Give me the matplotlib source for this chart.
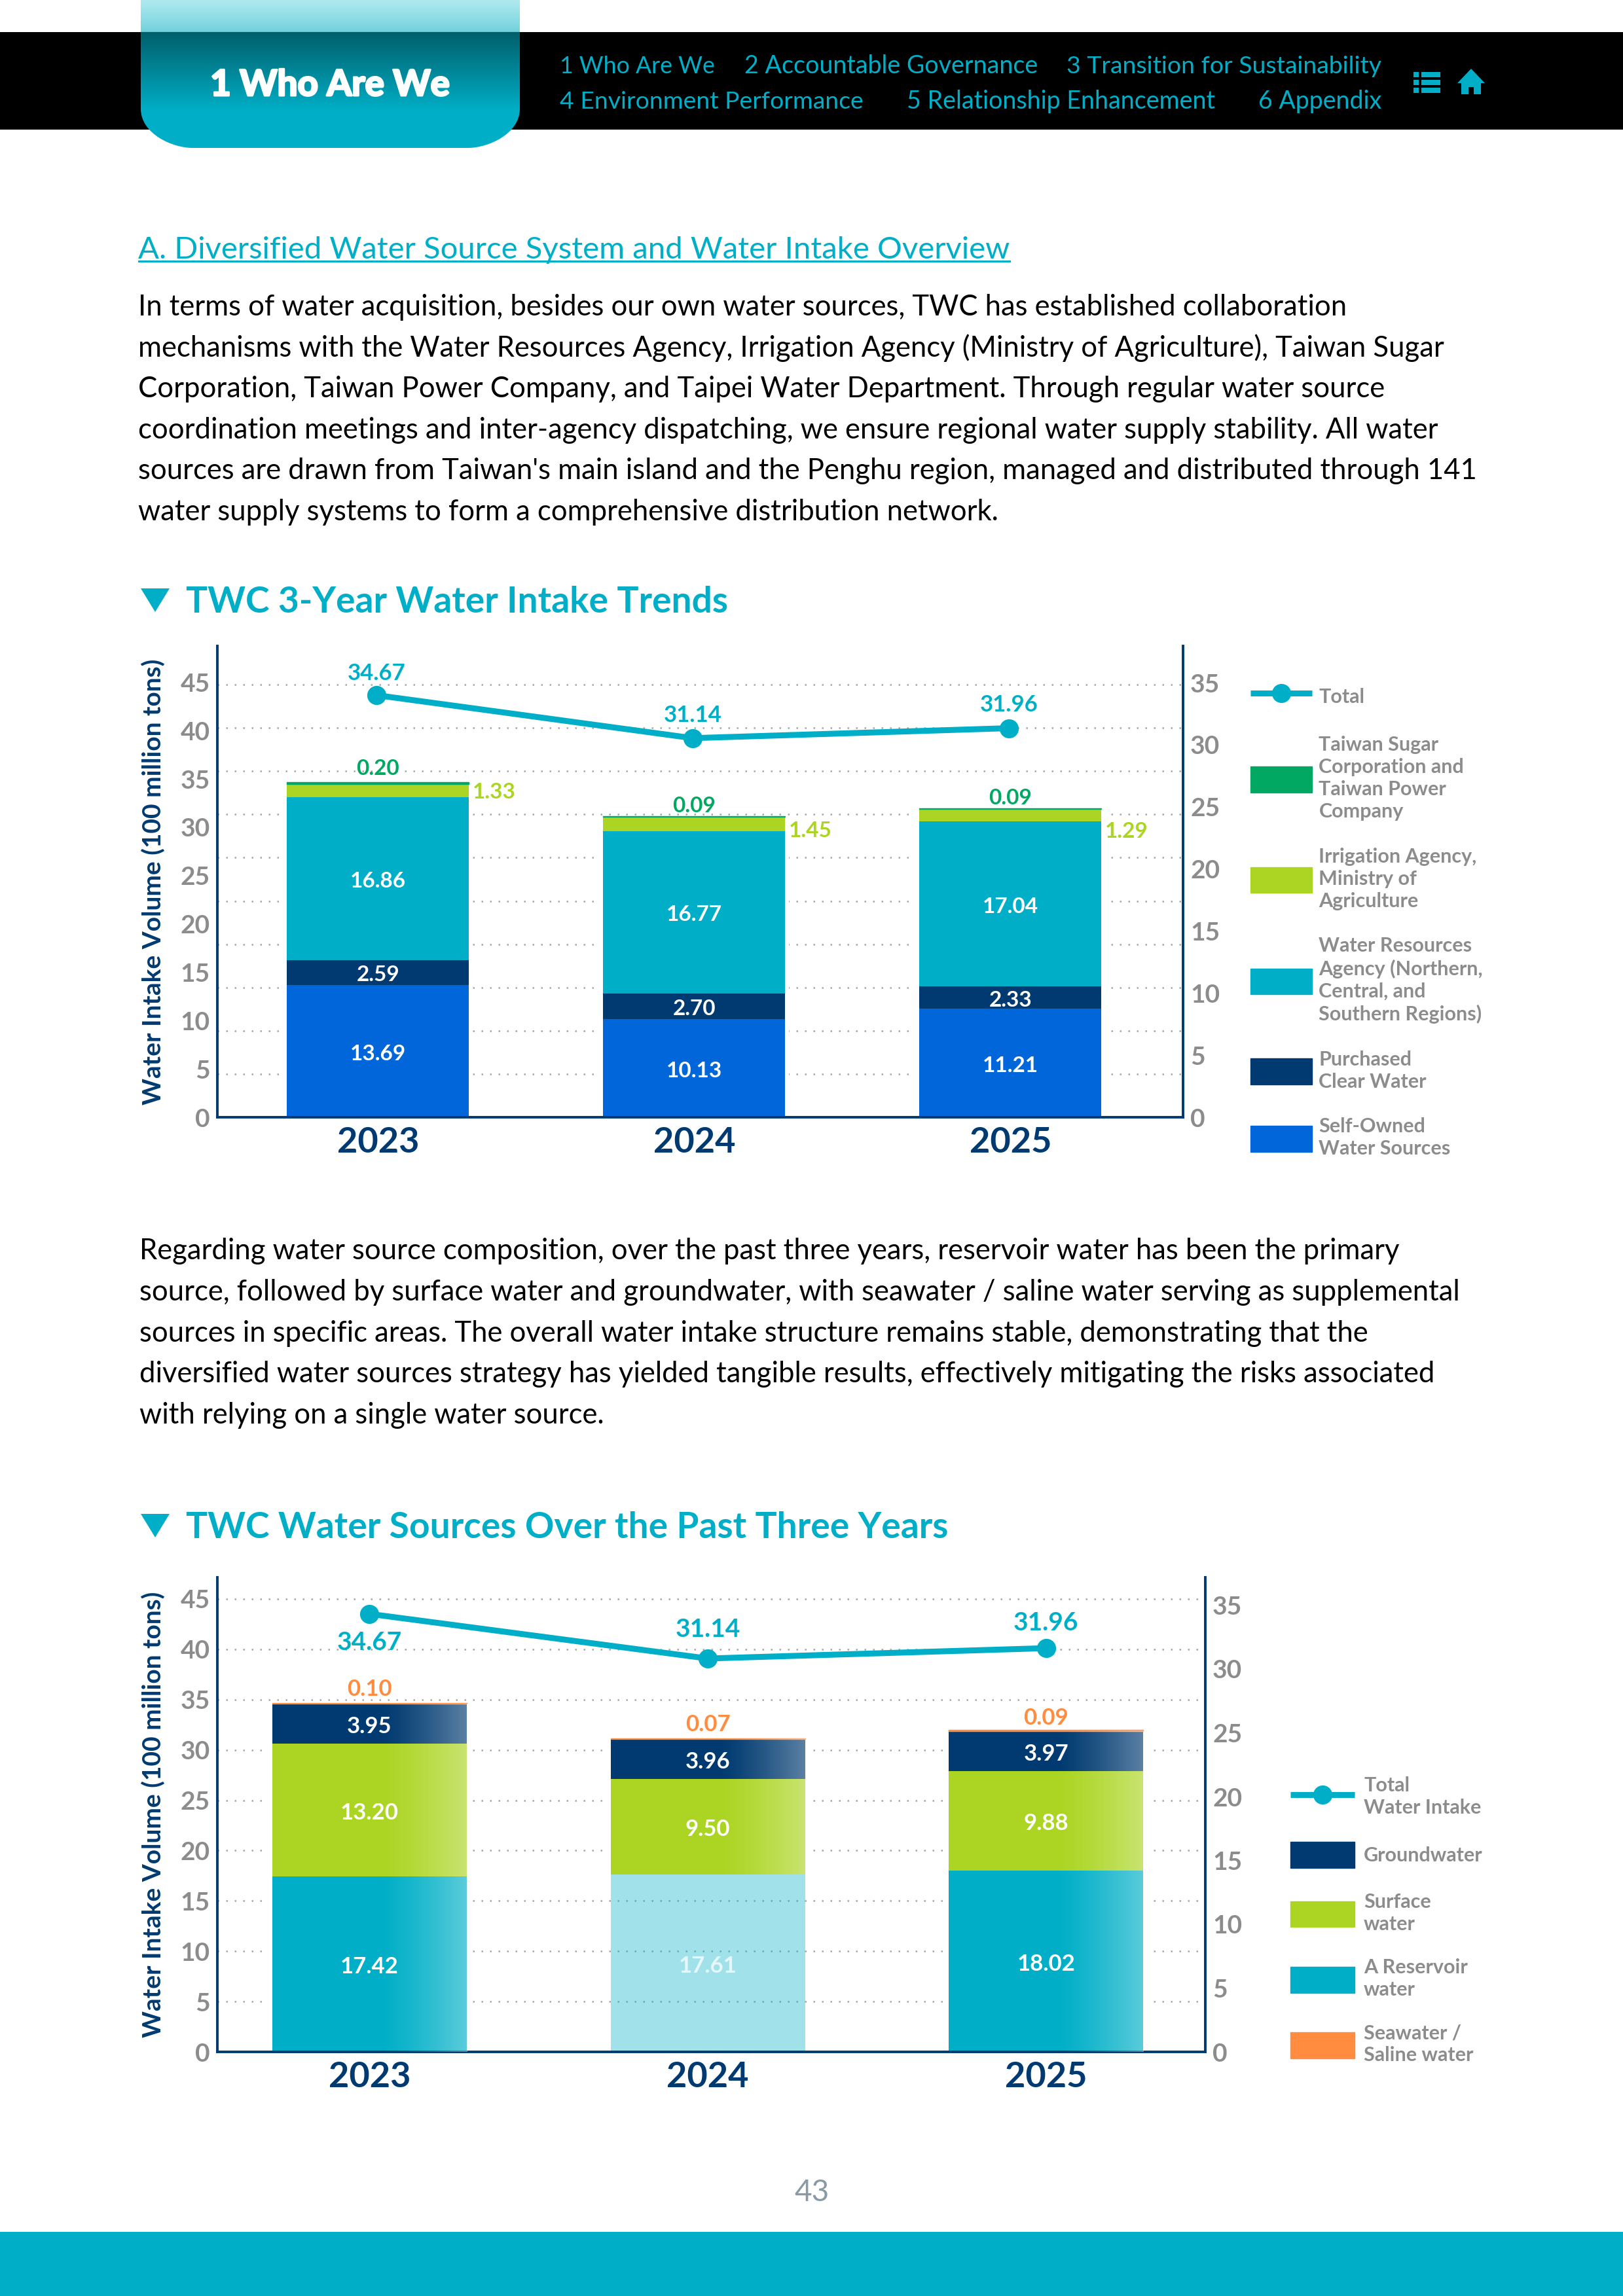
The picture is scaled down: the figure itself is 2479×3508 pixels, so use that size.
import numpy as np
import matplotlib
matplotlib.use("Agg")
import matplotlib.pyplot as plt
import matplotlib.patheffects as pe
from matplotlib.lines import Line2D
from matplotlib.patches import Patch, Rectangle, Polygon, PathPatch
from matplotlib.path import Path

# ---------- data ----------
years = ["2023", "2024", "2025"]
left_ticks = [0, 5, 10, 15, 20, 25, 30, 35, 40, 45]
right_ticks = [0, 5, 10, 15, 20, 25, 30, 35]

total = [34.67, 31.14, 31.96]

self_owned = [13.69, 10.13, 11.21]
purchased = [2.59, 2.70, 2.33]
wra = [16.86, 16.77, 17.04]
irrigation = [1.33, 1.45, 1.29]
sugar_power = [0.20, 0.09, 0.09]

reservoir = [17.42, 17.61, 18.02]
surface = [13.20, 9.50, 9.88]
groundwater = [3.95, 3.96, 3.97]
seawater = [0.10, 0.07, 0.09]

legend1 = ["Total", "Taiwan Sugar\nCorporation and\nTaiwan Power\nCompany",
           "Irrigation Agency,\nMinistry of\nAgriculture",
           "Water Resources\nAgency (Northern,\nCentral, and\nSouthern Regions)",
           "Purchased\nClear Water", "Self-Owned\nWater Sources"]
legend2 = ["Total\nWater Intake", "Groundwater", "Surface\nwater", "A Reservoir\nwater",
           "Seawater /\nSaline water"]

para1 = ["In terms of water acquisition, besides our own water sources, TWC has established collaboration",
         "mechanisms with the Water Resources Agency, Irrigation Agency (Ministry of Agriculture), Taiwan Sugar",
         "Corporation, Taiwan Power Company, and Taipei Water Department. Through regular water source",
         "coordination meetings and inter-agency dispatching, we ensure regional water supply stability. All water",
         "sources are drawn from Taiwan's main island and the Penghu region, managed and distributed through 141",
         "water supply systems to form a comprehensive distribution network."]
para2 = ["Regarding water source composition, over the past three years, reservoir water has been the primary",
         "source, followed by surface water and groundwater, with seawater / saline water serving as supplemental",
         "sources in specific areas. The overall water intake structure remains stable, demonstrating that the",
         "diversified water sources strategy has yielded tangible results, effectively mitigating the risks associated",
         "with relying on a single water source."]

# ---------- style ----------
W, H = 2479, 3508
TEAL, NAVY, BLUE, LIME, GREEN, ORANGE, GREY = "#00AFC7", "#003A70", "#0066D9", "#ABD522", "#00A862", "#FF8C3F", "#8C8C8C"
FONT = "Lato"
plt.rcParams["font.family"] = [FONT, "DejaVu Sans"]

fig = plt.figure(figsize=(W / 100, H / 100), dpi=100, facecolor="white")
page = fig.add_axes([0, 0, 1, 1])
page.set_xlim(0, W)
page.set_ylim(H, 0)
page.axis("off")


def fit(t, width):
    r = fig.canvas.get_renderer()
    t.set_fontsize(t.get_fontsize() * width / t.get_window_extent(r).width)
    return t


def txt(x, y, s, size, color="black", weight="normal", ha="left", width=None):
    t = page.text(x, y + 4, s, fontsize=size, color=color, fontweight=weight, ha=ha, va="center")
    if width:
        fit(t, width)
    return t


# ---------- page furniture ----------
page.add_patch(Rectangle((0, 49), W, 149, color="black", lw=0, zorder=1))
page.add_patch(Rectangle((0, 3410), W, 98, color=TEAL, lw=0, zorder=1))

rows = np.arange(227)
c_stops = np.array([[0xB0, 0xEA, 0xF0], [0x72, 0xD2, 0xDC], [0x00, 0x5F, 0x6B], [0x00, 0xAF, 0xC7], [0x00, 0xAF, 0xC7]]) / 255
y_stops = [0, 48, 49, 170, 226]
grad = np.stack([np.interp(rows, y_stops, c_stops[:, k]) for k in range(3)], axis=1)[:, None, :]
im = page.imshow(grad, extent=(215, 794, 226, 0), aspect="auto", zorder=2, origin="upper")
tab_path = Path([(215, 0), (794, 0), (794, 166), (794, 205), (745, 226), (715, 226), (294, 226), (264, 226), (215, 205), (215, 166), (215, 0)],
                [1, 2, 2, 4, 4, 4, 2, 4, 4, 4, 2])
clip = PathPatch(tab_path, transform=page.transData, fc="none", ec="none")
page.add_patch(clip)
im.set_clip_path(clip)
page.set_xlim(0, W)
page.set_ylim(H, 0)

tab_t = txt(504, 126, "1 Who Are We", 38, "white", "bold", "center", 366)
tab_t.set_zorder(3)
tab_t.set_path_effects([pe.withStroke(linewidth=2.2, foreground="white")])
nav = [(855, 97, "1 Who Are We", 237), (1137, 97, "2 Accountable Governance", 447), (1629, 97, "3 Transition for Sustainability", 481),
       (855, 151, "4 Environment Performance", 463), (1385, 151, "5 Relationship Enhancement", 470), (1922, 151, "6 Appendix", 188)]
for x, y, s, w in nav:
    txt(x, y, s, 26, TEAL, "normal", "left", w).set_zorder(3)
# list icon
for yy in (110, 122, 134):
    page.add_patch(Rectangle((2159, yy), 8, 8, color=TEAL, lw=0, zorder=3))
    page.add_patch(Rectangle((2171, yy), 29, 8, color=TEAL, lw=0, zorder=3))
# home icon
page.add_patch(Polygon([(2247, 105), (2268, 127), (2262, 127), (2262, 144), (2251, 144), (2251, 133), (2243, 133), (2243, 144), (2232, 144),
                        (2232, 127), (2226, 127)], closed=True, color=TEAL, lw=0, zorder=3))

txt(211, 378, "A. Diversified Water Source System and Water Intake Overview", 33, TEAL, "normal", "left", 1333)
page.add_patch(Rectangle((211, 398), 1333, 3, color=TEAL, lw=0))

for i, line in enumerate(para1):
    txt(211, 465.4 + i * 62.6, line, 31.4, "black", "normal")
for i, line in enumerate(para2):
    txt(213, 1908 + i * 62.6, line, 31.4, "black", "normal")

for y, s, w in [(916, "TWC 3-Year Water Intake Trends", 828), (2330, "TWC Water Sources Over the Past Three Years", 1164)]:
    page.add_patch(Polygon([(215, y - 17), (259, y - 17), (237, y + 19)], closed=True, color=TEAL, lw=0))
    txt(284, y, s, 37, TEAL, "bold", "left", w)

txt(1240, 3346, "43", 33, "#8A9AA5", "normal", "center")


# ---------- chart helper ----------
def make_axes(x0, x1, y0, y1, xlim, px_left, px_right, px_line):
    h = y1 - y0
    rect = [x0 / W, 1 - y1 / H, (x1 - x0) / W, h / H]
    ax = fig.add_axes(rect, facecolor="none")
    ax.set_xlim(*xlim)
    ax.set_ylim(0, h / px_left)
    ax.set_xticks(range(3), years)
    ax.set_yticks(left_ticks)
    ax.tick_params(axis="y", length=0, pad=8, labelsize=28, labelcolor=GREY)
    ax.tick_params(axis="x", length=0, pad=10, labelsize=39, labelcolor=NAVY)
    for lab in ax.get_xticklabels():
        lab.set_fontweight("bold")
    for lab in ax.get_yticklabels():
        lab.set_fontweight("bold")
    for s in ("top", "right"):
        ax.spines[s].set_visible(False)
    for s in ("left", "bottom"):
        ax.spines[s].set_color(NAVY)
        ax.spines[s].set_linewidth(2.8)
    ax.set_ylabel("Water Intake Volume (100 million tons)", fontsize=28, color=NAVY, fontweight="bold")
    ax.yaxis.set_label_coords((252 - x0) / (x1 - x0), 0.5)
    ar = ax.twinx()
    ar.set_facecolor("none")
    ar.set_ylim(0, h / px_right)
    ar.set_yticks(right_ticks)
    ar.tick_params(axis="y", length=0, pad=8, labelsize=28, labelcolor=GREY)
    for lab in ar.get_yticklabels():
        lab.set_fontweight("bold")
    for s in ("top", "left", "bottom"):
        ar.spines[s].set_visible(False)
    ar.spines["right"].set_color(NAVY)
    ar.spines["right"].set_linewidth(2.8)
    al = fig.add_axes(rect, facecolor="none")
    al.set_xlim(*xlim)
    al.set_ylim(0, h / px_line)
    al.axis("off")
    return ax, ar, al


def dotted(ax):
    ax.grid(axis="y", color="#A6A6A6", lw=1.8, linestyle=(0, (1, 4.2)))
    ax.set_axisbelow(True)


def draw_line(al, xs, offsets, size):
    al.plot(xs, total, color=TEAL, lw=6.5, marker="o", ms=21, mew=0, solid_capstyle="round")
    for x, v, off in zip(xs, total, offsets):
        al.annotate(f"{v:.2f}", (x, v), xytext=(0, off * 0.72), textcoords="offset points", ha="center", va="center",
                    fontsize=size, color=TEAL, fontweight="bold")


def make_legend(handles, labels, x, y, hl, spacing, pad):
    fs = 22
    leg = fig.legend(handles=handles, labels=labels, loc="upper left", bbox_to_anchor=(x / W, 1 - y / H),
                     bbox_transform=fig.transFigure, frameon=False, borderpad=0, borderaxespad=0,
                     fontsize=fs, handlelength=hl / (fs / 0.72), handleheight=1.62, handletextpad=pad / (fs / 0.72),
                     labelspacing=spacing, labelcolor=GREY)
    for t in leg.get_texts():
        t.set_fontweight("bold")
        t.set_linespacing(1.26)
    return leg


def total_handle():
    return Line2D([], [], color=TEAL, lw=6.5, marker="o", ms=21, mew=0, solid_capstyle="butt")


# ---------- chart 1 ----------
ax1, ar1, al1 = make_axes(332, 1807, 987, 1707, (-0.508, 2.5455), 14.77, 18.97, 18.6)
grid1 = fig.add_axes(ax1.get_position(), facecolor="none", zorder=-1)
grid1.set_xlim(ax1.get_xlim())
grid1.set_ylim(0, 720 / 66.1)
grid1.set_yticks(range(1, 11))
grid1.set_xticks([])
grid1.tick_params(left=False, labelleft=False)
for s in grid1.spines.values():
    s.set_visible(False)
dotted(grid1)
page.set_zorder(-2)

x1_pos = np.arange(3)
bar_w1 = 0.5755
ax1.bar(x1_pos, total, width=bar_w1 + 0.025, color="white", zorder=1)
bottom = np.zeros(3)
stack1 = [(self_owned, BLUE), (purchased, NAVY), (wra, TEAL), (irrigation, LIME), (sugar_power, GREEN)]
mids1 = []
for vals, col in stack1:
    edge = col if col == GREEN else "none"
    ax1.bar(x1_pos, vals, width=bar_w1, bottom=bottom, color=col, edgecolor=edge, linewidth=1.0, zorder=2)
    mids1.append(bottom + np.array(vals) / 2)
    bottom = bottom + np.array(vals)
for k in range(3):
    for m, (vals, _) in list(zip(mids1, stack1))[:3]:
        ax1.annotate(f"{vals[k]:.2f}", (k, m[k]), xytext=(0, -3), textcoords="offset points", ha="center", va="center",
                     color="white", fontsize=24, fontweight="bold", zorder=4)
for k, up in enumerate((15, 11, 11)):
    ax1.annotate(f"{sugar_power[k]:.2f}", (k, bottom[k]), xytext=(0, up), textcoords="offset points", ha="center", va="center",
                 fontsize=24, color=GREEN, fontweight="bold", zorder=4)
for k, dy in enumerate((-3, -10, -25)):
    ax1.annotate(f"{irrigation[k]:.2f}", (k + bar_w1 / 2, mids1[3][k]), xytext=(4, dy * 0.72), textcoords="offset points", ha="left", va="center",
                 fontsize=24, color=LIME, fontweight="bold", zorder=4)
draw_line(al1, x1_pos - 0.005, (33, 35, 36), 25)

make_legend([total_handle(), Patch(color=GREEN), Patch(color=LIME), Patch(color=TEAL), Patch(color=NAVY), Patch(color=BLUE)], legend1,
            1909.5, 1044, 94, 1.33, 11)

# ---------- chart 2 ----------
ax2, ar2, al2 = make_axes(332, 1841, 2410, 3135, (-0.450, 2.471), 15.38, 19.5, 19.3)
dotted(ax2)
x2_pos = np.arange(3)
bar_w2 = 0.575
ax2.bar(x2_pos, np.array(total) - np.array([0, reservoir[1], 0]), width=bar_w2 + 0.022,
        bottom=[0, reservoir[1], 0], color="white", zorder=1)
bottom2 = np.zeros(3)
stack2 = [(reservoir, TEAL), (surface, LIME), (groundwater, NAVY), (seawater, ORANGE)]
mids2 = []
for vals, col in stack2:
    edge = col if col == ORANGE else "none"
    bars = ax2.bar(x2_pos, vals, width=bar_w2, bottom=bottom2, color=col, edgecolor=edge, linewidth=1.0, zorder=2)
    if col == TEAL:
        bars[1].set_alpha(0.37)
    mids2.append(bottom2 + np.array(vals) / 2)
    bottom2 = bottom2 + np.array(vals)
# lighter right-hand sheen on the bars
ramp = np.clip((np.linspace(0, 1, 200) - 0.55) / 0.45, 0, 1) ** 1.3 * 0.36
sheen = np.ones((1, 200, 4))
sheen[..., 3] = ramp
for k in range(3):
    start = reservoir[1] if k == 1 else 0
    ax2.imshow(sheen, extent=(k - bar_w2 / 2, k + bar_w2 / 2, start, bottom2[k] - seawater[k]), aspect="auto", zorder=3)
ax2.set_xlim(-0.450, 2.471)
ax2.set_ylim(0, 725 / 15.38)
for k in range(3):
    for j, (m, (vals, _)) in enumerate(list(zip(mids2, stack2))[:3]):
        ax2.annotate(f"{vals[k]:.2f}", (k, m[k]), xytext=(0, -3), textcoords="offset points", ha="center", va="center",
                     color="white", fontsize=25, fontweight="bold", zorder=4, alpha=0.75 if (k == 1 and j == 0) else 1)
for k, up in enumerate((15, 15, 13)):
    ax2.annotate(f"{seawater[k]:.2f}", (k, bottom2[k]), xytext=(0, up), textcoords="offset points", ha="center", va="center",
                 fontsize=25, color=ORANGE, fontweight="bold", zorder=4)
draw_line(al2, x2_pos, (-44, 44, 39), 28)
make_legend([total_handle(), Patch(color=NAVY), Patch(color=LIME), Patch(color=TEAL), Patch(color=ORANGE)],
            legend2, 1971, 2714, 98, 1.25, 14)

fig.savefig("out.png", dpi=100, facecolor="white")
